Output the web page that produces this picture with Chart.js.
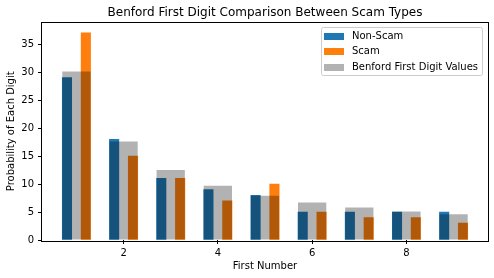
<!DOCTYPE html>
<html><head><meta charset="utf-8">
<script src="https://cdn.jsdelivr.net/npm/chart.js@4"></script>
<style>html,body{margin:0;padding:0;background:#fff}#wrap{width:494px;height:278px}</style>
</head><body><div id="wrap"><canvas id="c" width="494" height="278"></canvas></div>
<script>
const digits = [1,2,3,4,5,6,7,8,9];
const nonScam = [29,18,11,9,8,5,5,5,5];
const scam = [37,15,11,7,10,5,4,4,3];
const benford = [30.1,17.6,12.5,9.7,7.9,6.7,5.8,5.1,4.6];
const xTicks = [2,4,6,8];
const yTicks = [0,5,10,15,20,25,30,35];
const seriesNames = ['Non-Scam','Scam','Benford First Digit Values'];
const title = 'Benford First Digit Comparison Between Scam Types';
const xLabel = 'First Number';
const yLabel = 'Probability of Each Digit';

Chart.defaults.font.family = 'DejaVu Sans';
Chart.defaults.font.size = 10;
Chart.defaults.color = '#000';

const pts = (vals, off) => digits.map((d,i)=>({x: d + off, y: vals[i]}));

const boxLegend = {
  id:'boxLegend',
  afterDatasetsDraw(chart){
    const ctx = chart.ctx, a = chart.chartArea;
    ctx.save();
    ctx.strokeStyle = '#000'; ctx.lineWidth = 1;
    ctx.strokeRect(Math.round(a.left)-0.5, Math.round(a.top)-0.5, Math.round(a.right-a.left)+1, Math.round(a.bottom-a.top)+1);
    ctx.restore();
  },
  afterDraw(chart){
    const ctx = chart.ctx, a = chart.chartArea;
    const ds = chart.data.datasets;
    ctx.save();
    // title centred over the axes
    ctx.font = '12px "DejaVu Sans"';
    ctx.fillStyle = '#000'; ctx.textAlign = 'center'; ctx.textBaseline = 'middle';
    ctx.fillText(title, (a.left + a.right)/2, 13);
    // legend
    ctx.font = '10px "DejaVu Sans"';
    let tw = 0;
    ds.forEach(d=>{ tw = Math.max(tw, ctx.measureText(d.label).width); });
    const w = Math.round(3 + 20 + 8 + tw + 4), h = 48;
    const x0 = Math.round(a.right - 6 - w), y0 = Math.round(a.top + 4);
    ctx.beginPath();
    ctx.roundRect(x0+0.5, y0+0.5, w, h, 2);
    ctx.fillStyle = 'rgba(255,255,255,0.8)'; ctx.fill();
    ctx.strokeStyle = '#cccccc'; ctx.lineWidth = 1; ctx.stroke();
    ds.forEach((d,i)=>{
      const cy = y0 + 9 + i*15.5;
      ctx.fillStyle = '#fff';
      ctx.fillRect(x0+3, Math.round(cy-3.5), 20, 7);
      ctx.fillStyle = d.backgroundColor;
      ctx.fillRect(x0+3, Math.round(cy-3.5), 20, 7);
      ctx.fillStyle = '#000';
      ctx.textBaseline = 'middle'; ctx.textAlign = 'left';
      ctx.fillText(d.label, x0+31, cy);
    });
    ctx.restore();
  }
};

new Chart(document.getElementById('c'), {
  type:'bar',
  data:{ datasets:[
    {label:seriesNames[0], data:pts(nonScam,-0.2), backgroundColor:'#1f77b4', grouped:false, categoryPercentage:1, barPercentage:1, order:1},
    {label:seriesNames[1], data:pts(scam,0.2), backgroundColor:'#ff7f0e', grouped:false, categoryPercentage:1, barPercentage:1, order:2},
    {label:seriesNames[2], data:pts(benford,0), backgroundColor:'rgba(0,0,0,0.3)', grouped:false, categoryPercentage:1, barPercentage:3, order:0}
  ]},
  options:{
    responsive:false, devicePixelRatio:1, animation:false,
    layout:{padding:{left:0,right:6,top:22.5,bottom:0}},
    plugins:{
      legend:{display:false}, tooltip:{enabled:false}, title:{display:false}
    },
    scales:{
      x:{type:'linear', min:0.27, max:9.73, offset:false,
        grid:{display:true, offset:false, drawOnChartArea:false, drawTicks:true, tickLength:4, color:'#000'},
        border:{display:false},
        ticks:{padding:3, maxRotation:0, color:'#000', callback:v=>String(v)},
        afterBuildTicks:s=>{s.ticks = xTicks.map(v=>({value:v}));},
        afterFit:s=>{s.height = 38;},
        title:{display:true, text:xLabel, color:'#000', padding:{top:0,bottom:6}}
      },
      y:{type:'linear', min:0, max:38.85,
        grid:{display:true, drawOnChartArea:false, drawTicks:true, tickLength:4, color:'#000'},
        border:{display:false},
        ticks:{padding:4, color:'#000', callback:v=>String(v)},
        afterBuildTicks:s=>{s.ticks = yTicks.map(v=>({value:v}));},
        afterFit:s=>{s.width = 42;},
        title:{display:true, text:yLabel, color:'#000', padding:{top:5,bottom:0}}
      }
    }
  },
  plugins:[boxLegend]
});
</script></body></html>
